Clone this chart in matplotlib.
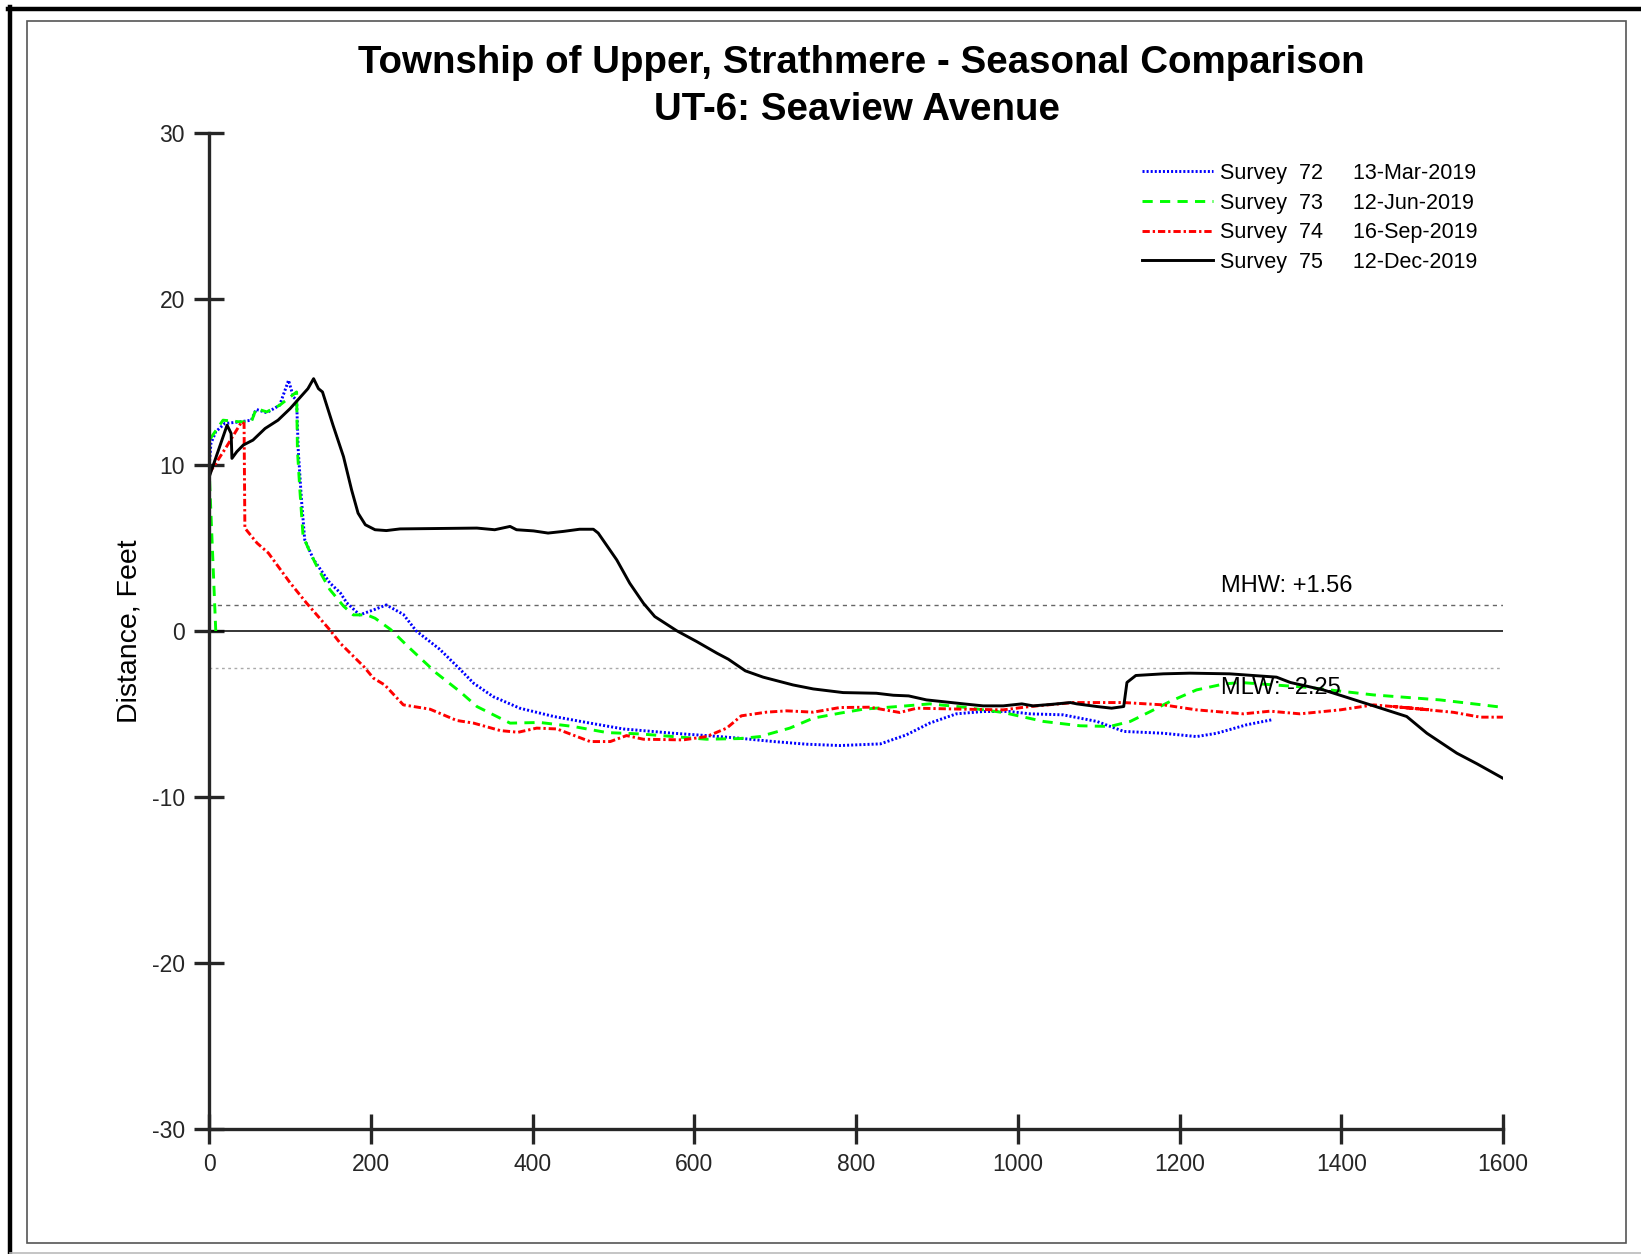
import matplotlib
matplotlib.use("Agg")
import matplotlib.pyplot as plt
from matplotlib.lines import Line2D
from matplotlib.patches import Rectangle

plt.rcParams["font.family"] = ["Liberation Sans", "DejaVu Sans"]
plt.rcParams["axes.unicode_minus"] = False

# survey profiles (distance, elevation)
s72_x = [0, 2, 8, 19, 38, 52, 58, 71, 87, 98, 104, 108, 110, 114, 118, 129, 149, 162, 170,
         186, 203, 219, 240, 256, 285, 310, 327, 351, 384, 426, 471, 512, 574, 615, 656, 698,
         739, 780, 830, 862, 891, 924, 957, 990, 1015, 1056, 1098, 1131, 1180, 1221, 1246,
         1283, 1314]
s72_y = [10.0, 11.3, 12.0, 12.5, 12.6, 12.7, 13.35, 13.15, 13.6, 15.1, 14.1, 13.9, 10.9, 7.9,
         5.5, 4.3, 2.9, 2.3, 1.7, 0.97, 1.27, 1.57, 1.0, 0.0, -1.1, -2.3, -3.15, -3.95, -4.65,
         -5.15, -5.55, -5.9, -6.16, -6.3, -6.46, -6.66, -6.82, -6.9, -6.8, -6.26, -5.55, -4.99,
         -4.85, -4.85, -4.99, -5.05, -5.45, -6.05, -6.16, -6.36, -6.16, -5.65, -5.35]

s73_x = [8, 0, 0, 17, 38, 52, 58, 71, 87, 108, 109, 112, 116, 125, 133, 149, 166, 178, 195,
         205, 224, 248, 281, 310, 331, 372, 409, 450, 492, 533, 574, 615, 656, 681, 718, 747,
         780, 809, 862, 891, 933, 982, 1032, 1077, 1114, 1139, 1164, 1188, 1221, 1254, 1275,
         1357, 1440, 1522, 1564, 1600]
s73_y = [0.0, 9.5, 11.5, 12.7, 12.6, 12.6, 13.4, 13.2, 13.6, 14.4, 10.9, 8.5, 5.7, 4.7, 3.9,
         2.5, 1.5, 0.97, 0.97, 0.77, 0.1, -1.04, -2.54, -3.65, -4.55, -5.55, -5.51, -5.75,
         -6.12, -6.2, -6.36, -6.52, -6.48, -6.36, -5.85, -5.25, -4.95, -4.71, -4.51, -4.39,
         -4.59, -4.91, -5.45, -5.71, -5.75, -5.45, -4.85, -4.25, -3.55, -3.2, -3.1, -3.39,
         -3.85, -4.15, -4.39, -4.6]

s74_x = [0, 20, 40, 43, 44, 59, 73, 100, 120, 149, 162, 191, 203, 217, 240, 273, 306, 327,
         360, 382, 405, 430, 471, 496, 516, 537, 586, 615, 640, 658, 689, 714, 747, 780, 817,
         854, 875, 933, 982, 1015, 1069, 1131, 1180, 1221, 1279, 1312, 1349, 1399, 1440, 1510,
         1465, 1539, 1572, 1600]
s74_y = [9.5, 11.0, 12.6, 12.5, 6.2, 5.3, 4.7, 2.9, 1.7, 0.07, -0.74, -2.14, -2.84, -3.25,
         -4.45, -4.71, -5.39, -5.55, -6.0, -6.1, -5.85, -5.9, -6.66, -6.66, -6.3, -6.52, -6.56,
         -6.36, -5.85, -5.11, -4.89, -4.81, -4.89, -4.61, -4.59, -4.91, -4.65, -4.71, -4.75,
         -4.55, -4.31, -4.31, -4.45, -4.75, -4.99, -4.83, -4.99, -4.75, -4.45, -4.75, -4.55,
         -4.9, -5.19, -5.19]

s75_x = [0, 22, 27, 28, 34, 42, 54, 69, 85, 100, 122, 129, 135, 140, 153, 166, 176, 184, 193,
         205, 219, 236, 331, 353, 372, 380, 401, 419, 438, 458, 475, 481, 504, 520, 537, 551,
         578, 603, 628, 642, 663, 685, 722, 747, 784, 825, 846, 865, 887, 933, 957, 982, 1005,
         1019, 1044, 1065, 1073, 1098, 1116, 1131, 1135, 1146, 1180, 1213, 1262, 1320, 1337,
         1378, 1440, 1481, 1506, 1543, 1568, 1600]
s75_y = [9.3, 12.4, 11.9, 10.4, 10.8, 11.2, 11.5, 12.2, 12.7, 13.4, 14.6, 15.2, 14.6, 14.4,
         12.4, 10.5, 8.5, 7.1, 6.4, 6.1, 6.05, 6.15, 6.2, 6.1, 6.3, 6.1, 6.03, 5.9, 6.0, 6.13,
         6.13, 5.9, 4.28, 2.88, 1.67, 0.87, 0.02, -0.64, -1.34, -1.7, -2.4, -2.78, -3.25,
         -3.49, -3.71, -3.75, -3.87, -3.91, -4.15, -4.39, -4.51, -4.51, -4.39, -4.51, -4.41,
         -4.31, -4.39, -4.55, -4.65, -4.55, -3.1, -2.68, -2.58, -2.54, -2.58, -2.78, -3.1,
         -3.55, -4.51, -5.15, -6.16, -7.36, -8.0, -8.87]

labels = ["Survey  72     13-Mar-2019",
          "Survey  73     12-Jun-2019",
          "Survey  74     16-Sep-2019",
          "Survey  75     12-Dec-2019"]

mhw = 1.56
mlw = -2.25

W, H = 1641, 1254
fig = plt.figure(figsize=(W / 100, H / 100), dpi=100)
ax = fig.add_axes([209.3 / W, 1 - 1129 / H, 1293.6 / W, 996 / H])

# page frame
fig.add_artist(Line2D([8 / W, 1], [1 - 9 / H] * 2, color="black", lw=3.2,
                      transform=fig.transFigure))
fig.add_artist(Line2D([10 / W] * 2, [0, 1 - 7 / H], color="black", lw=3.2,
                      transform=fig.transFigure))
fig.add_artist(Line2D([10 / W, 1], [1 - 1253 / H] * 2, color="#bbbbbb", lw=1.2,
                      transform=fig.transFigure))
fig.add_artist(Rectangle((27 / W, 1 - 1243 / H), 1599 / W, 1222 / H, fill=False,
                         edgecolor="#555555", lw=1.2, transform=fig.transFigure))

# tidal datums
ax.axhline(mhw, color="#666666", lw=1.0, ls=(0, (3, 3)))
ax.axhline(0, color="black", lw=1.1)
ax.axhline(mlw, color="#aaaaaa", lw=1.0, ls=(0, (2, 2.5)))
ax.text(1251, mhw + 0.81, "MHW: +1.56", fontsize=17, va="baseline")
ax.text(1251, mlw - 1.57, "MLW: -2.25", fontsize=17, va="baseline")

lw = 2.1
ax.plot(s72_x, s72_y, color="#0000ff", lw=lw, ls=(0, (0.7, 0.7)), label=labels[0])
ax.plot(s73_x, s73_y, color="#00ff00", lw=lw, ls=(0, (3.5, 2.5)), label=labels[1])
ax.plot(s74_x, s74_y, color="#ff0000", lw=lw, ls=(0, (2.5, 1.0, 0.8, 1.0)), label=labels[2])
ax.plot(s75_x, s75_y, color="black", lw=lw, label=labels[3])

ax.set_xlim(0, 1600)
ax.set_ylim(-30, 30)
ax.set_xticks(range(0, 1601, 200))
ax.set_yticks(range(-30, 31, 10))

for side in ["top", "right"]:
    ax.spines[side].set_visible(False)
for side in ["left", "bottom"]:
    ax.spines[side].set_linewidth(2.4)
    ax.spines[side].set_color("#262626")
ax.tick_params(direction="inout", length=21, width=2.4, color="#262626",
               labelsize=16.5, labelcolor="#262626", pad=7)

ax.set_ylabel("Distance, Feet", fontsize=20.5)
ax.yaxis.set_label_coords(-0.052, 0.5)

fig.text(861 / W, 1 - 63 / H, "Township of Upper, Strathmere - Seasonal Comparison",
         fontsize=27.7, fontweight="bold", ha="center", va="center")
fig.text(857 / W, 1 - 110 / H, "UT-6: Seaview Avenue",
         fontsize=27.7, fontweight="bold", ha="center", va="center")

ax.legend(loc="upper left", bbox_to_anchor=(1141.7 / W, 1 - 163 / H),
          bbox_transform=fig.transFigure, frameon=False, fontsize=15.5,
          handlelength=3.3, handletextpad=0.35, labelspacing=0.40,
          borderpad=0, borderaxespad=0)

fig.savefig("out.png", dpi=100, facecolor="white")
